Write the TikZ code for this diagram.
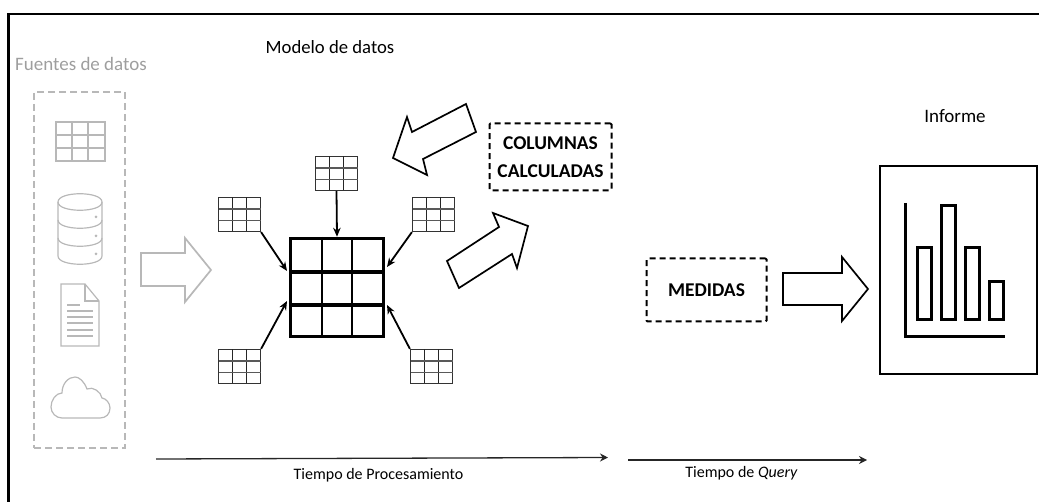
\documentclass[tikz,border=0pt]{standalone}
\usepackage{fontspec}
\setmainfont{Carlito}
\usetikzlibrary{arrows.meta}
\definecolor{srcgray}{gray}{0.72}
\definecolor{srctext}{gray}{0.62}
\tikzset{
  tablebox/.style={draw, rectangle, inner sep=0pt, minimum width=42pt, minimum height=34pt, line width=1.2pt, draw=black!80},
  dashbox/.style={draw, rectangle, dashed, dash pattern=on 6pt off 4pt, line width=2pt, rounded corners=1pt, inner sep=0pt, align=center, font=\fontsize{19.5}{28}\selectfont\bfseries},
  blockarrow/.style={draw, line width=1.7pt, line join=miter, fill=white},
  feedarrow/.style={-{Stealth[length=9pt, width=7.5pt]}, line width=1.8pt},
  timearrow/.style={-{Stealth[length=8pt, width=8pt]}, line width=1.3pt, black!85},
  srcline/.style={srcgray, line width=1.2pt},
  barbox/.style={draw, line width=3pt},
}
\begin{document}
\begin{tikzpicture}[x=1pt, y=-1pt]
  \useasboundingbox (0, 0) rectangle (1039, 502);

  % frame
  \draw[line width=2.4pt] (8.5, 502) -- (8.5, 14) -- (1039, 14);

  % titles
  \node[srctext, font=\fontsize{19}{22}\selectfont] (srctitle) at (81, 64) {Fuentes de datos};
  \node[font=\fontsize{18.7}{22}\selectfont] (modeltitle) at (330, 47) {Modelo de datos};
  \node[font=\fontsize{19}{22}\selectfont] (reporttitle) at (955, 116) {Informe};

  % data sources
  \node[draw=srcgray, dashed, dash pattern=on 7pt off 4pt, line width=1.3pt, minimum width=91pt, minimum height=356pt, inner sep=0pt] (sources) at (79.5, 270) {};

  \draw[srcline] (56, 122) rectangle (105, 161);
  \draw[srcline] (72, 122) -- (72, 161);
  \draw[srcline] (88, 122) -- (88, 161);
  \draw[srcline] (56, 135) -- (105, 135);
  \draw[srcline] (56, 148) -- (105, 148);

  \draw[srcline] (58, 202) .. controls (58, 191) and (102, 191) .. (102, 202)
                 .. controls (102, 213) and (58, 213) .. (58, 202) -- cycle;
  \draw[srcline] (58, 202) -- (58, 256) .. controls (58, 267) and (102, 267) .. (102, 256) -- (102, 202);
  \draw[srcline] (58, 220) .. controls (58, 231) and (102, 231) .. (102, 220);
  \draw[srcline] (58, 238) .. controls (58, 249) and (102, 249) .. (102, 238);
  \fill[srcgray] (96, 217) circle (1.5pt);
  \fill[srcgray] (96, 236) circle (1.5pt);
  \fill[srcgray] (96, 254) circle (1.5pt);

  \draw[srcline] (61, 284) -- (85, 284) -- (99, 301) -- (99, 346) -- (61, 346) -- cycle;
  \draw[srcline] (85, 284) -- (85, 301) -- (99, 301);
  \draw[srcline] (67, 305) -- (80, 305);
  \foreach \y in {311, 317, 323, 330, 336}
    \draw[srcline] (67, \y) -- (93, \y);

  \draw[srcline] (62, 418) -- (100, 418) .. controls (106, 418) and (110, 414) .. (110, 408)
    .. controls (110, 403) and (106, 398.5) .. (102, 398)
    .. controls (101, 392) and (93, 386) .. (87, 389)
    .. controls (84, 381) and (79, 377) .. (75, 377)
    .. controls (68, 377) and (62, 384) .. (62, 393)
    .. controls (56, 393) and (51, 400) .. (51, 407)
    .. controls (51, 413) and (56, 418) .. (62, 418) -- cycle;

  % block arrows
  \draw[blockarrow, draw=srcgray] (141, 253) -- (185, 253) -- (185, 238) -- (211, 270) -- (185, 302) -- (185, 286) -- (141, 286) -- cycle;
  \draw[blockarrow] (466, 104) -- (476, 132) -- (423, 159) -- (427, 175) -- (393, 158) -- (407, 117) -- (412, 132) -- cycle;
  \draw[blockarrow] (447, 261) -- (459, 288) -- (512, 254) -- (517, 268) -- (528, 226) -- (493, 213) -- (499, 227) -- cycle;
  \draw[blockarrow] (783, 273) -- (842, 273) -- (842, 257) -- (868, 289) -- (842, 321) -- (842, 305) -- (783, 305) -- cycle;

  % model
  \node[draw, rectangle, line width=3.5pt, minimum width=93pt, minimum height=98pt, inner sep=0pt] (model) at (337, 287.5) {};
  \draw[line width=2.4pt] (322, 237) -- (322, 338);
  \draw[line width=2.4pt] (352, 237) -- (352, 338);
  \draw[line width=3.2pt] (289, 272) -- (385, 272);
  \draw[line width=3.2pt] (289, 305) -- (385, 305);

  \foreach \name/\cx/\cy in {toptable/336.5/173.5, ultable/239.5/214.5, urtable/433.5/214.5, lltable/239.5/366.5, lrtable/431.5/366.5} {
    \node[tablebox] (\name) at (\cx, \cy) {};
    \draw[black!85, line width=1.1pt] ({\cx-7}, {\cy-17}) -- ({\cx-7}, {\cy+17});
    \draw[black!85, line width=1.1pt] ({\cx+7}, {\cy-17}) -- ({\cx+7}, {\cy+17});
    \draw[black!65, line width=1.4pt] ({\cx-21}, {\cy-5.5}) -- ({\cx+21}, {\cy-5.5});
    \draw[black!65, line width=1.4pt] ({\cx-21}, {\cy+6}) -- ({\cx+21}, {\cy+6});
  }

  \coordinate (modelul) at (287, 271);
  \coordinate (modelur) at (387, 267);
  \coordinate (modelll) at (287, 301);
  \coordinate (modellr) at (387, 305);
  \draw[feedarrow] (toptable.south) -- (model.north);
  \draw[feedarrow] (ultable.south east) -- (modelul);
  \draw[feedarrow] (urtable.south west) -- (modelur);
  \draw[feedarrow] (lltable.north east) -- (modelll);
  \draw[feedarrow] (lrtable.north west) -- (modellr);

  % calculated items
  \node[dashbox, minimum width=122pt, minimum height=67pt] (columns) at (550.5, 157) {COLUMNAS\\CALCULADAS};
  \node[dashbox, minimum width=120pt, minimum height=63pt] (measures) at (706.5, 290) {MEDIDAS};

  % report
  \node[draw, rectangle, line width=2pt, minimum width=157pt, minimum height=208pt, inner sep=0pt] (report) at (958, 270.5) {};
  \draw[line width=3pt] (905, 203) -- (905, 336.5) -- (1005, 336.5);
  \foreach \xa/\xb/\ytop in {917.5/931.5/247.5, 941.5/955/205.5, 965.5/979.5/247.5, 989.5/1003.5/281.5}
    \draw[barbox] (\xa, \ytop) rectangle (\xb, 320);

  % time axes
  \coordinate (procstart) at (156, 459);
  \coordinate (procend) at (608, 457.5);
  \coordinate (querystart) at (628, 460);
  \coordinate (queryend) at (867, 460);
  \draw[timearrow] (procstart) -- (procend);
  \draw[timearrow] (querystart) -- (queryend);
  \node[font=\fontsize{16}{18}\selectfont] (proclabel) at (378.5, 475) {Tiempo de Procesamiento};
  \node[font=\fontsize{16}{18}\selectfont] (querylabel) at (741.5, 473) {Tiempo de \textit{Query}};
\end{tikzpicture}
\end{document}
